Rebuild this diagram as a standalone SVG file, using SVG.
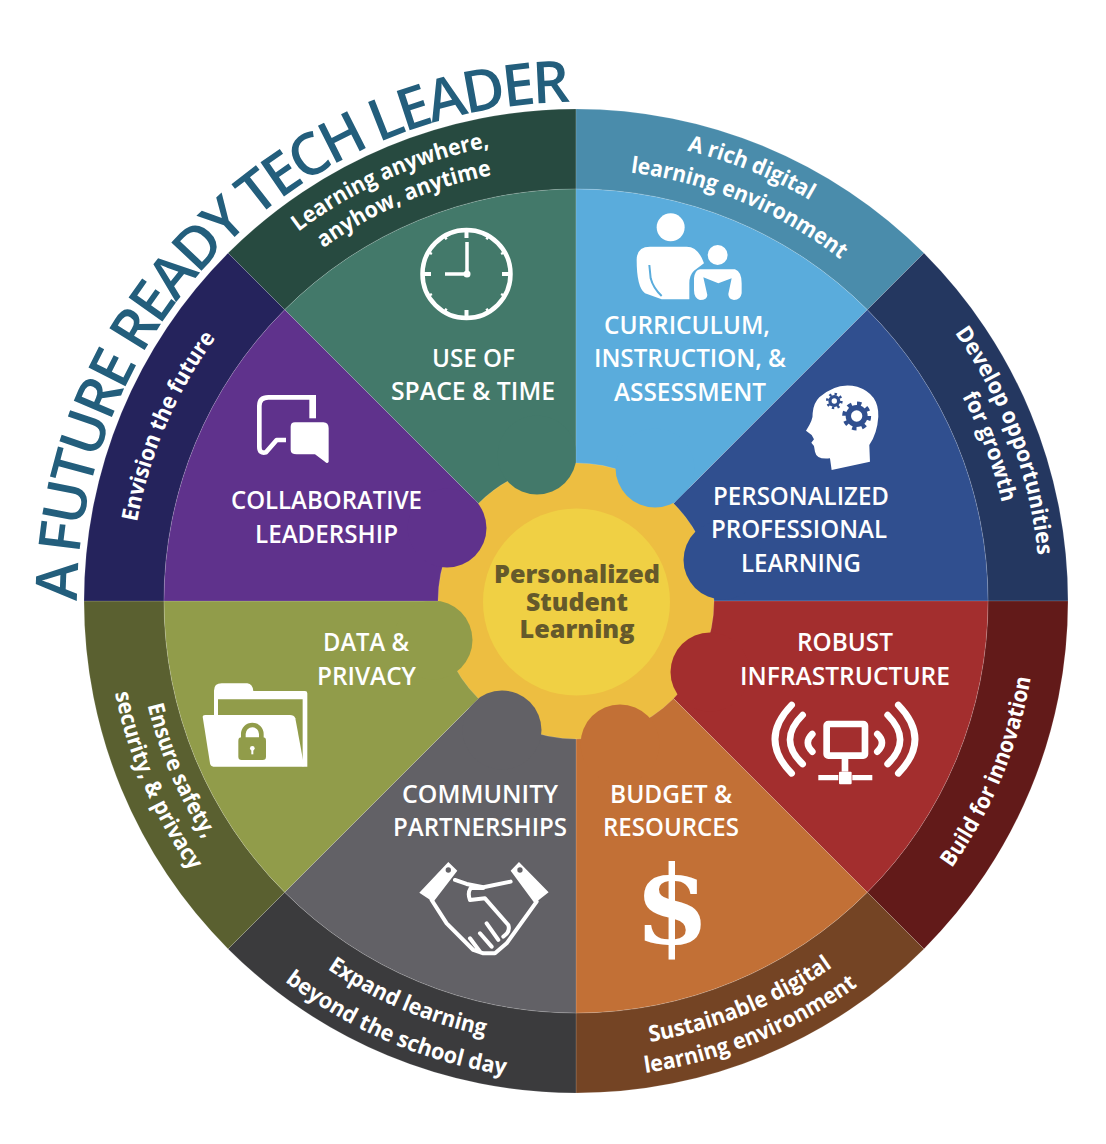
<svg xmlns="http://www.w3.org/2000/svg" xmlns:xlink="http://www.w3.org/1999/xlink" width="1106" height="1144" viewBox="0 0 1106 1144">
<style>
text{font-family:"Open Sans","Noto Sans","Liberation Sans",sans-serif}
.edge{stroke:#fff;stroke-opacity:.2;stroke-width:.7}
.lab{font-size:25px;font-weight:600;fill:#fff;text-anchor:middle}
.ring{font-size:22.500px;font-weight:700;fill:#fff;text-anchor:middle}
.core{font-size:25px;font-weight:800;fill:#65592B;text-anchor:middle}
.title{font-size:58px;font-weight:600;fill:#235E7C}
.w{fill:#fff}
</style>
<defs>
<path id="t0" d="M77,601A499,499 0 0 1 576,102"/>
<path id="pa1" d="M576,137A464,464 0 0 1 904.100,272.900"/>
<path id="pa2" d="M576,169A432,432 0 0 1 881.500,295.500"/>
<path id="pb1" d="M904.100,272.900A464,464 0 0 1 1040,601"/>
<path id="pb2" d="M885,292A437,437 0 0 1 1013,601"/>
<path id="pc1" d="M902,927A461,461 0 0 0 1037,601"/>
<path id="pd1" d="M576,1048A447,447 0 0 0 892.100,917.100"/>
<path id="pd2" d="M576,1078A477,477 0 0 0 913.300,938.300"/>
<path id="pe1" d="M262,915A444,444 0 0 0 576,1045"/>
<path id="pe2" d="M237.300,939.700A479,479 0 0 0 576,1080"/>
<path id="pf1" d="M135,601A441,441 0 0 0 264.200,912.800"/>
<path id="pf2" d="M106,601A470,470 0 0 0 243.700,933.300"/>
<path id="pg1" d="M130,601A446,446 0 0 1 260.600,285.600"/>
<path id="ph1" d="M249.300,274.300A462,462 0 0 1 576,139"/>
<path id="ph2" d="M269.100,294.100A434,434 0 0 1 576,167"/>
</defs>

<g id="title"><text class="title"><textPath href="#t0" textLength="778">A FUTURE READY TECH LEADER</textPath></text></g>

<g id="gear">
<circle cx="576" cy="601" r="139" fill="#EDBE41"/>
<circle cx="576.500" cy="602" r="93.500" fill="#F0D044"/>
<text class="core" x="577" y="583" textLength="166" lengthAdjust="spacingAndGlyphs">Personalized</text>
<text class="core" x="577" y="611" textLength="102" lengthAdjust="spacingAndGlyphs">Student</text>
<text class="core" x="577" y="638" textLength="115" lengthAdjust="spacingAndGlyphs">Learning</text>
</g>

<g id="space-time">
<path class="edge" fill="#274A40" d="M228.100,253.100A492,492 0 0 1 576,109V189A412,412 0 0 0 284.700,309.700Z"/>
<path class="edge" fill="#43796A" d="M284.700,309.700A412,412 0 0 1 576,189V463A138,138 0 0 0 478.400,503.400Z"/>
<circle cx="537" cy="455" r="39.500" fill="#43796A"/>
<text class="ring"><textPath href="#ph1" startOffset="47%" textLength="211" lengthAdjust="spacingAndGlyphs">Learning anywhere,</textPath></text>
<text class="ring"><textPath href="#ph2" startOffset="48%" textLength="185" lengthAdjust="spacingAndGlyphs">anyhow, anytime</textPath></text>
<text class="lab" x="473.500" y="367" textLength="83" lengthAdjust="spacingAndGlyphs">USE OF</text>
<text class="lab" x="473" y="400" textLength="164" lengthAdjust="spacingAndGlyphs">SPACE &amp; TIME</text>
<g fill="none" stroke="#fff">
<circle cx="466.500" cy="274" r="44" stroke-width="4.500"/>
<path stroke-width="3.500" d="M467,242V274M445,274H467"/>
<path stroke-width="4" d="M466.500,230V238M466.500,310V318M422.500,274H431M502,274H510.500"/>
<path stroke-width="2.500" d="M488.500,235.900L486.500,239.400M504.600,252L501.100,254M504.600,296L501.100,294M488.500,312.100L486.500,308.600M444.500,312.100L446.500,308.600M428.400,296L431.900,294M428.400,252L431.900,254M444.500,235.900L446.500,239.400"/>
</g>
<circle class="w" cx="467" cy="274" r="3.500"/>
</g>

<g id="curriculum">
<path class="edge" fill="#4A8CAB" d="M576,109A492,492 0 0 1 923.900,253.100L867.300,309.700A412,412 0 0 0 576,189Z"/>
<path class="edge" fill="#5AACDC" d="M576,189A412,412 0 0 1 867.300,309.700L673.600,503.400A138,138 0 0 0 576,463Z"/>
<circle cx="655" cy="468" r="39.500" fill="#5AACDC"/>
<text class="ring"><textPath href="#pa1" startOffset="49%" textLength="133" lengthAdjust="spacingAndGlyphs">A rich digital</textPath></text>
<text class="ring"><textPath href="#pa2" startOffset="50%" textLength="230" lengthAdjust="spacingAndGlyphs">learning environment</textPath></text>
<text class="lab" x="687" y="334" textLength="166" lengthAdjust="spacingAndGlyphs">CURRICULUM,</text>
<text class="lab" x="690" y="367" textLength="192" lengthAdjust="spacingAndGlyphs">INSTRUCTION, &amp;</text>
<text class="lab" x="690" y="401" textLength="152" lengthAdjust="spacingAndGlyphs">ASSESSMENT</text>
<g transform="translate(620,200) scale(.3333)">
<circle class="w" cx="152" cy="82" r="42"/>
<path class="w" d="M90,140H200Q235,140 252,190L222,212Q208,225 208,250V298H125L75,280Q50,262 50,180Q50,140 90,140Z"/>
<path fill="none" stroke="#5AACDC" stroke-width="6" d="M88,195L92,235Q100,265 125,288"/>
<circle class="w" cx="293" cy="165" r="30"/>
<path class="w" d="M240,208H345Q365,215 365,250V280Q362,300 342,300Q325,298 325,282L335,235L295,250L250,232L262,285Q262,300 240,300Q222,295 222,270V235Q225,210 240,208Z"/>
</g>
</g>

<g id="professional-learning">
<path class="edge" fill="#243760" d="M923.900,253.100A492,492 0 0 1 1068,601H988A412,412 0 0 0 867.300,309.700Z"/>
<path class="edge" fill="#304F8F" d="M867.300,309.700A412,412 0 0 1 988,601H714A138,138 0 0 0 673.600,503.400Z"/>
<circle cx="723" cy="560" r="39.500" fill="#304F8F"/>
<text class="ring"><textPath href="#pb1" startOffset="54.500%" textLength="240" lengthAdjust="spacingAndGlyphs">Develop opportunities</textPath></text>
<text class="ring"><textPath href="#pb2" startOffset="54.500%" textLength="114" lengthAdjust="spacingAndGlyphs">for growth</textPath></text>
<text class="lab" x="801" y="505" textLength="176" lengthAdjust="spacingAndGlyphs">PERSONALIZED</text>
<text class="lab" x="799" y="538" textLength="176" lengthAdjust="spacingAndGlyphs">PROFESSIONAL</text>
<text class="lab" x="801" y="572" textLength="120" lengthAdjust="spacingAndGlyphs">LEARNING</text>
<g transform="translate(620,200) scale(.3333)">
<path class="w" d="M598,592Q650,545 712,560Q778,582 775,650Q772,700 748,735L750,785L635,810L630,775Q590,780 585,755L582,738L574,728L582,718L575,705L558,692Q580,660 578,640Q580,610 598,592Z"/>
<circle cx="643" cy="603" r="18" fill="#304F8F"/>
<circle cx="643" cy="603" r="21" fill="none" stroke="#304F8F" stroke-width="8" stroke-dasharray="7 9.500"/>
<circle class="w" cx="643" cy="603" r="8"/>
<circle cx="710" cy="648" r="33" fill="#304F8F"/>
<circle cx="710" cy="648" r="37" fill="none" stroke="#304F8F" stroke-width="13" stroke-dasharray="13 16.060"/>
<circle class="w" cx="710" cy="648" r="17"/>
</g>
</g>

<g id="infrastructure">
<path class="edge" fill="#621A19" d="M1068,601A492,492 0 0 1 923.900,948.900L867.300,892.300A412,412 0 0 0 988,601Z"/>
<path class="edge" fill="#A32E2E" d="M988,601A412,412 0 0 1 867.300,892.300L673.600,698.600A138,138 0 0 0 714,601Z"/>
<circle cx="710" cy="672" r="39.500" fill="#A32E2E"/>
<text class="ring"><textPath href="#pc1" startOffset="50%" textLength="208" lengthAdjust="spacingAndGlyphs">Build for innovation</textPath></text>
<text class="lab" x="845" y="651" textLength="96" lengthAdjust="spacingAndGlyphs">ROBUST</text>
<text class="lab" x="845" y="685" textLength="210" lengthAdjust="spacingAndGlyphs">INFRASTRUCTURE</text>
<g transform="translate(620,690) scale(.3333)">
<rect x="620" y="102" width="115" height="95" rx="5" fill="none" stroke="#fff" stroke-width="20"/>
<path fill="none" stroke="#fff" stroke-width="20" d="M675,205V245"/>
<rect class="w" x="657" y="245" width="38" height="38" rx="3"/>
<path fill="none" stroke="#fff" stroke-width="16" d="M595,263H655M697,263H757"/>
<path fill="none" stroke="#fff" stroke-linecap="round" stroke-width="20" d="M515,45Q415,148 515,250M548,75Q472,150 548,222M577,132Q550,158 577,185M835,45Q935,148 835,250M803,75Q878,150 803,222M772,132Q800,158 772,185"/>
</g>
</g>

<g id="budget">
<path class="edge" fill="#744424" d="M923.900,948.900A492,492 0 0 1 576,1093V1013A412,412 0 0 0 867.300,892.300Z"/>
<path class="edge" fill="#C27036" d="M867.300,892.300A412,412 0 0 1 576,1013V739A138,138 0 0 0 673.600,698.600Z"/>
<circle cx="620" cy="744" r="39.500" fill="#C27036"/>
<text class="ring"><textPath href="#pd1" startOffset="49.500%" textLength="199" lengthAdjust="spacingAndGlyphs">Sustainable digital</textPath></text>
<text class="ring"><textPath href="#pd2" startOffset="49.500%" textLength="232" lengthAdjust="spacingAndGlyphs">learning environment</textPath></text>
<text class="lab" x="671" y="803" textLength="122" lengthAdjust="spacingAndGlyphs">BUDGET &amp;</text>
<text class="lab" x="671" y="836" textLength="136" lengthAdjust="spacingAndGlyphs">RESOURCES</text>
<text x="672" y="944" fill="#fff" text-anchor="middle" font-size="108" font-weight="700" style="font-family:'DejaVu Serif',serif">$</text>
</g>

<g id="community">
<path class="edge" fill="#3B3B3D" d="M576,1093A492,492 0 0 1 228.100,948.900L284.700,892.300A412,412 0 0 0 576,1013Z"/>
<path class="edge" fill="#626166" d="M576,1013A412,412 0 0 1 284.700,892.300L478.400,698.600A138,138 0 0 0 576,739Z"/>
<circle cx="502" cy="730" r="39.500" fill="#626166"/>
<text class="ring"><textPath href="#pe1" startOffset="49%" textLength="172" lengthAdjust="spacingAndGlyphs">Expand learning</textPath></text>
<text class="ring"><textPath href="#pe2" startOffset="49%" textLength="242" lengthAdjust="spacingAndGlyphs">beyond the school day</textPath></text>
<text class="lab" x="480" y="803" textLength="156" lengthAdjust="spacingAndGlyphs">COMMUNITY</text>
<text class="lab" x="480" y="836" textLength="174" lengthAdjust="spacingAndGlyphs">PARTNERSHIPS</text>
<g transform="translate(190,660) scale(.3333)">
<path class="w" d="M688,698L775,606L802,632L730,726ZM987,606L1076,697L1034,730L962,632Z"/>
<circle cx="775" cy="630" r="8" fill="#626166"/><circle cx="990" cy="630" r="8" fill="#626166"/>
<path fill="none" stroke="#fff" stroke-width="12" stroke-linejoin="round" stroke-linecap="round" d="M795,660L830,672L880,682L962,665M725,720L770,790L850,870L880,880L915,880L950,850L1040,725M880,684H842Q832,700 840,720L885,715L955,795Q962,815 940,830M890,790L925,840M870,820L905,860M840,835L870,875"/>
</g>
</g>

<g id="data-privacy">
<path class="edge" fill="#5A6030" d="M228.100,948.900A492,492 0 0 1 84,601H164A412,412 0 0 0 284.700,892.300Z"/>
<path class="edge" fill="#919C4A" d="M284.700,892.300A412,412 0 0 1 164,601H438A138,138 0 0 0 478.400,698.600Z"/>
<circle cx="433" cy="640" r="39.500" fill="#919C4A"/>
<text class="ring"><textPath href="#pf1" startOffset="51.500%" textLength="146" lengthAdjust="spacingAndGlyphs">Ensure safety,</textPath></text>
<text class="ring"><textPath href="#pf2" startOffset="51.500%" textLength="195" lengthAdjust="spacingAndGlyphs">security, &amp; privacy</textPath></text>
<text class="lab" x="366" y="651" textLength="86" lengthAdjust="spacingAndGlyphs">DATA &amp;</text>
<text class="lab" x="366.500" y="685" textLength="99" lengthAdjust="spacingAndGlyphs">PRIVACY</text>
<g transform="translate(190,660) scale(.3333)">
<path class="w" d="M72,170V92Q72,70 95,70H172Q188,72 190,93H345Q352,93 352,100V320H338V118H84V170Z"/>
<path class="w" d="M38,170Q38,165 45,165H300Q312,165 316,175L340,305V320H70Q62,320 60,310Z"/>
<path fill="none" stroke="#919C4A" stroke-width="14" d="M160,240V222A27,27 0 0 1 214,222V240"/>
<rect x="145" y="232" width="83" height="68" rx="10" fill="#919C4A"/>
<circle class="w" cx="187" cy="265" r="7"/><rect class="w" x="184" y="266" width="6" height="17"/>
</g>
</g>

<g id="collaborative-leadership">
<path class="edge" fill="#25235C" d="M84,601A492,492 0 0 1 228.100,253.100L284.700,309.700A412,412 0 0 0 164,601Z"/>
<path class="edge" fill="#5F328C" d="M164,601A412,412 0 0 1 284.700,309.700L478.400,503.400A138,138 0 0 0 438,601Z"/>
<circle cx="447" cy="528" r="39.500" fill="#5F328C"/>
<text class="ring"><textPath href="#pg1" startOffset="51.500%" textLength="202" lengthAdjust="spacingAndGlyphs">Envision the future</textPath></text>
<text class="lab" x="326.500" y="509" textLength="191" lengthAdjust="spacingAndGlyphs">COLLABORATIVE</text>
<text class="lab" x="326.500" y="543" textLength="143" lengthAdjust="spacingAndGlyphs">LEADERSHIP</text>
<g transform="translate(240,220) scale(.3333)">
<path fill="none" stroke="#fff" stroke-width="14" stroke-linejoin="round" d="M218,532H85Q58,532 58,558V680Q58,702 78,697L110,660H138"/>
<path fill="none" stroke="#fff" stroke-width="20" d="M218,525V595"/>
<path class="w" d="M165,607H250Q266,607 266,625V725Q262,733 255,725L225,703H170Q152,703 152,690V620Q152,607 165,607Z"/>
</g>
</g>
</svg>
